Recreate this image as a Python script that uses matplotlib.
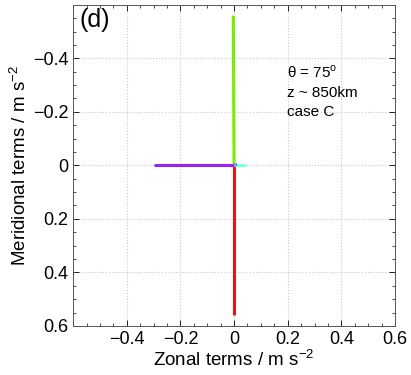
import numpy as np
import matplotlib
matplotlib.use('Agg')
import matplotlib.pyplot as plt
from matplotlib.ticker import MultipleLocator

plt.rcParams['font.family'] = ['Liberation Sans', 'DejaVu Sans']
plt.rcParams['mathtext.fontset'] = 'custom'
plt.rcParams['mathtext.rm'] = 'Liberation Sans'

# force-balance terms (zonal, meridional) in m s^-2
term_colors = ['#77ee00', '#ee1111', '#a020f0', '#80ffe0', '#6699ff']
zonal = [-0.003, 0.0, -0.30, 0.045, 0.012]
meridional = [-0.56, 0.56, 0.0, 0.0, -0.004]

xticks = [-0.4, -0.2, 0, 0.2, 0.4, 0.6]
yticks = [-0.4, -0.2, 0, 0.2, 0.4, 0.6]

fig = plt.figure(figsize=(4.11, 3.75), dpi=100)
ax = fig.add_axes([0.178, 0.131, 0.783, 0.856])

for c, u, v in zip(term_colors, zonal, meridional):
    ax.plot([0, u], [0, v], color=c, lw=2.2, solid_capstyle='butt')

ax.set_xlim(-0.6, 0.6)
ax.set_ylim(0.6, -0.6)
ax.set_xticks(xticks)
ax.set_yticks(yticks)
fmt = lambda t: '0' if t == 0 else ('%.1f' % t).replace('-', '\u2212')
ax.set_xticklabels([fmt(t) for t in xticks])
ax.set_yticklabels([fmt(t) for t in yticks])
ax.xaxis.set_minor_locator(MultipleLocator(0.05))
ax.yaxis.set_minor_locator(MultipleLocator(0.05))
ax.tick_params(which='both', direction='in', top=True, right=True, labelsize=13)
ax.tick_params(which='major', length=4, width=0.6)
ax.tick_params(which='minor', length=2, width=0.5)
ax.grid(True, which='major', linestyle=':', color='#c8c8c8', lw=0.8)
for s in ax.spines.values():
    s.set_color('#555555')
    s.set_linewidth(0.7)

ax.set_xlabel('Zonal terms / m s$^{-2}$', fontsize=13.5, labelpad=1)
ax.set_ylabel('Meridional terms / m s$^{-2}$', fontsize=13.5, labelpad=2)

ax.text(0.02, 0.99, '(d)', transform=ax.transAxes, fontsize=18, va='top', ha='left')
ax.text(0.665, 0.73, '\u03b8 = 75$^{\\mathrm{o}}$\nz ~ 850km\ncase C', transform=ax.transAxes,
        fontsize=11, va='center', ha='left', linespacing=1.45)

fig.savefig('out.png', dpi=100)
